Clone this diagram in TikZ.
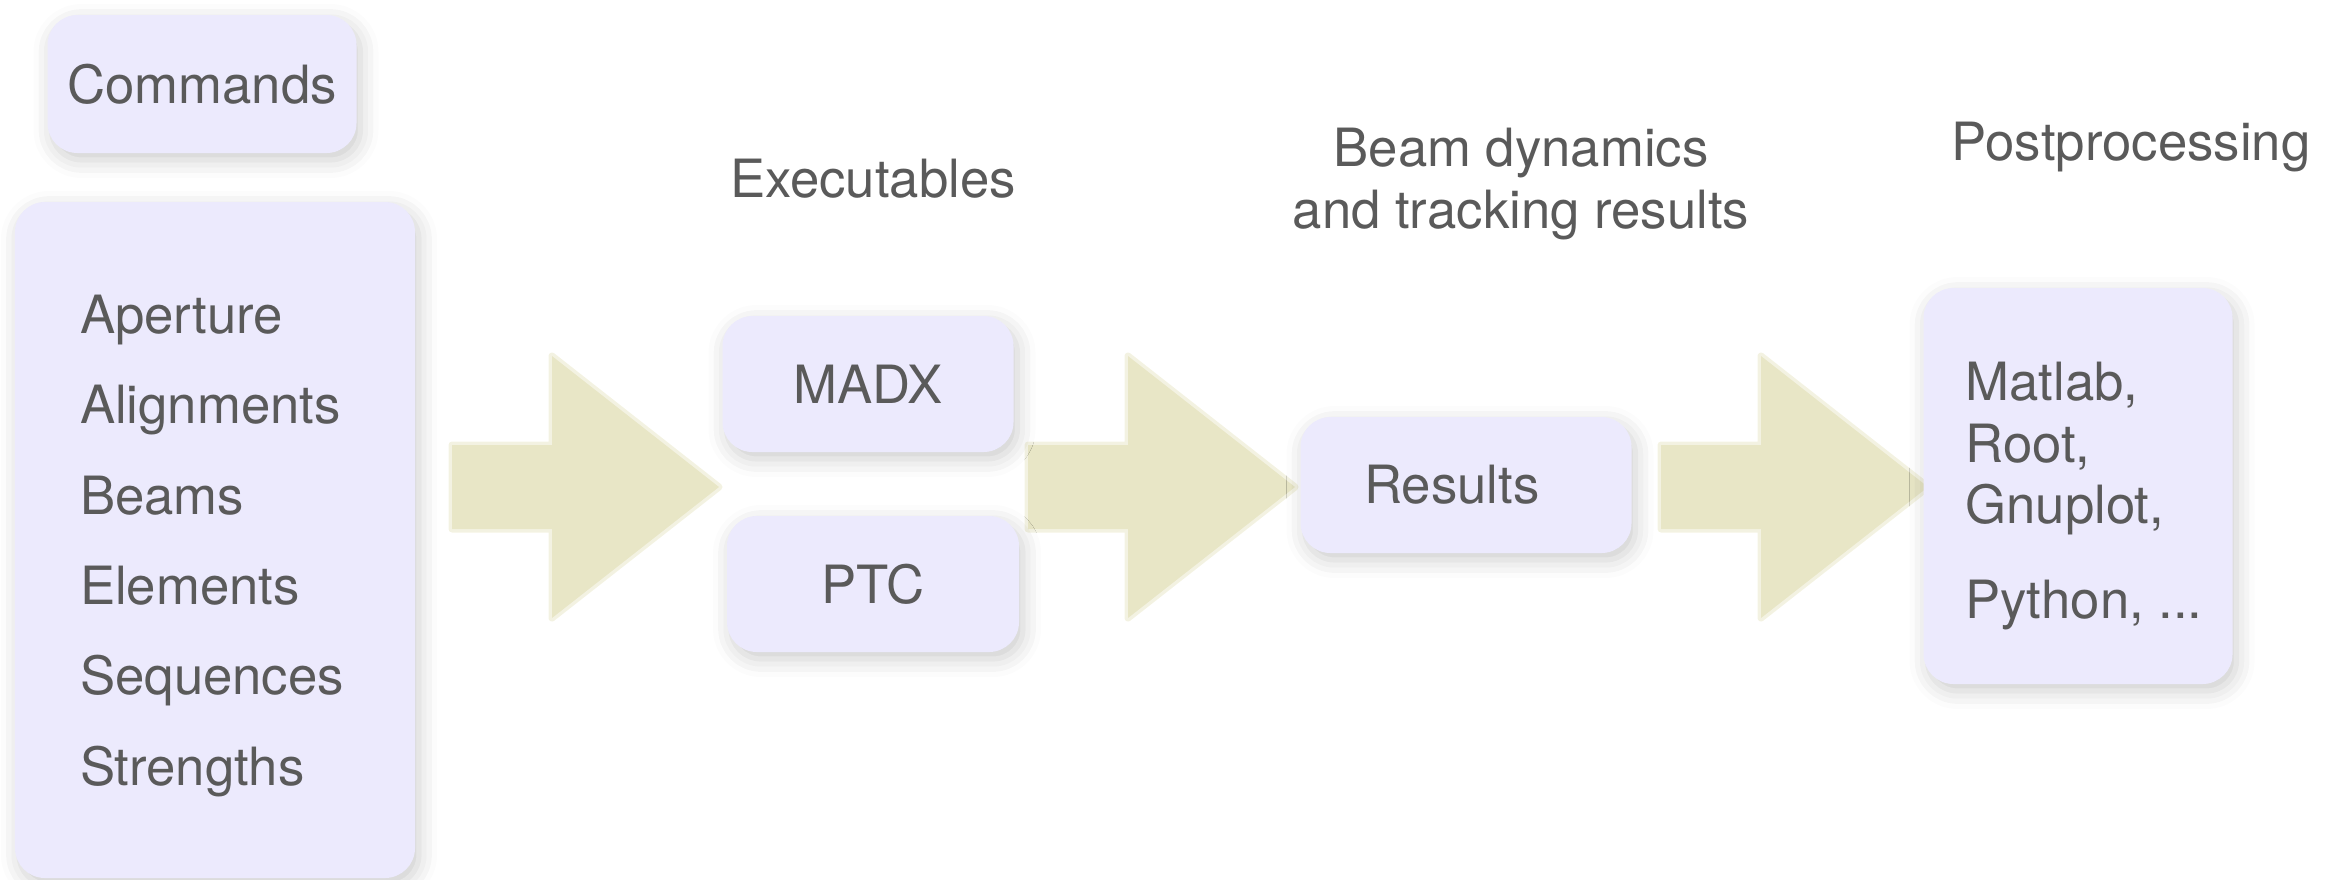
\documentclass[tikz,border=0pt]{standalone}
\usepackage{fontspec}
\setmainfont{TeX Gyre Heros}
\usetikzlibrary{shadows.blur}
\definecolor{boxfill}{HTML}{ECEAFD}
\definecolor{txtgray}{HTML}{5A5A5A}
\definecolor{arrowfill}{HTML}{E8E6C6}

\begin{document}
\begin{tikzpicture}[
  every node/.style={text=txtgray, font=\fontsize{15}{18}\selectfont},
  box/.style={fill=boxfill, rounded corners=0.3cm, inner sep=0pt,
    blur shadow={shadow xshift=0.04cm, shadow yshift=-0.07cm,
      shadow blur radius=0.18cm, shadow opacity=20}},
]
\useasboundingbox (0,0) rectangle (23.25,8.79);

% fat arrows between the stages, with a soft rim
\foreach \x in {4.52, 10.28, 16.61} {
  \fill[arrowfill] (\x,4.34) -- (\x+1,4.34) -- (\x+1,5.23) -- (\x+2.67,3.92)
    -- (\x+1,2.61) -- (\x+1,3.50) -- (\x,3.50) -- cycle;
  \draw[arrowfill, line width=0.07cm, opacity=0.5, line join=round]
    (\x,4.34) -- (\x+1,4.34) -- (\x+1,5.23) -- (\x+2.67,3.92)
    -- (\x+1,2.61) -- (\x+1,3.50) -- (\x,3.50) -- cycle;
}

% input side
\node[box, minimum width=3.09cm, minimum height=1.38cm] (cmds) at (2.02,7.95) {Commands};
\node[box, minimum width=4.00cm, minimum height=6.76cm] (input) at (2.15,3.39) {};
\node[text width=2.7cm, align=left, font=\fontsize{15}{25.7}\selectfont]
  (inputtext) at ([yshift=-0.06cm]input.center)
  {Aperture\\Alignments\\Beams\\Elements\\Sequences\\Strengths};

% executables
\node (execlbl) at (8.73,7.00) {Executables};
\node[box, minimum width=2.91cm, minimum height=1.36cm] (madx) at (8.68,4.95) {MADX};
\node[box, minimum width=2.92cm, minimum height=1.36cm] (ptc) at (8.73,2.95) {PTC};

% results
\node[align=center, font=\fontsize{15}{17.9}\selectfont] (beamlbl) at (15.21,6.95)
  {Beam dynamics\\and tracking results};
\node[box, minimum width=3.31cm, minimum height=1.36cm] (res) at (14.66,3.94) {};
\node (restext) at ([xshift=-0.14cm]res.center) {Results};

% postprocessing
\node (postlbl) at (21.31,7.32) {Postprocessing};
\node[box, minimum width=3.09cm, minimum height=3.96cm] (post) at (20.78,3.93) {};
\node[align=left, font=\fontsize{15}{17.6}\selectfont]
  (posttext) at ([xshift=0.06cm, yshift=-0.1cm]post.center)
  {Matlab,\\Root,\\Gnuplot,\\[0.33cm]Python, ...};

\end{tikzpicture}
\end{document}
